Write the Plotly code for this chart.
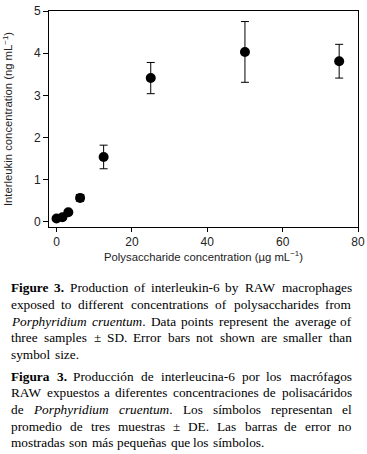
import plotly.graph_objects as go

# ---- data ----
concentration = [0, 1.5625, 3.125, 6.25, 12.5, 25, 50, 75]
il6 = [0.08, 0.11, 0.23, 0.57, 1.54, 3.41, 4.03, 3.81]
il6_sd = [0.02, 0.03, 0.04, 0.08, 0.28, 0.37, 0.72, 0.40]
x_ticks = [0, 20, 40, 60, 80]
y_ticks = [0, 1, 2, 3, 4, 5]

W, H = 367, 454
ML, MR, MT, MB = 49, 9, 11, 227
PW, PH = W - ML - MR, H - MT - MB

AX_FONT = "Liberation Sans, Arial, sans-serif"
SERIF = "Liberation Serif, Times New Roman, serif"
CAP_SIZE = 13.3
FUDGE = 1.02

fig = go.Figure()
fig.add_trace(go.Scatter(
    x=concentration, y=il6, mode="markers",
    marker=dict(size=10, color="black"),
    error_y=dict(type="data", array=il6_sd, visible=True, color="black",
                 thickness=1, width=4),
    showlegend=False,
))

fig.update_layout(
    width=W, height=H, autosize=False,
    margin=dict(l=ML, r=MR, t=MT, b=MB, pad=0),
    paper_bgcolor="white", plot_bgcolor="white",
    font=dict(family=AX_FONT, color="black", size=12),
    xaxis=dict(range=[-2, 80], tickvals=x_ticks, ticks="outside", ticklen=4,
               tickcolor="black", showline=True, linecolor="black", linewidth=1,
               mirror=True, showgrid=False, zeroline=False, automargin=False,
               ticklabeloverflow="allow",
               tickfont=dict(size=12, color="#222"),
               title=dict(text="Polysaccharide concentration (µg mL<sup>−1</sup>)",
                          font=dict(size=11.3, color="#222"), standoff=4)),
    yaxis=dict(range=[-0.12, 5], tickvals=y_ticks, ticks="outside", ticklen=5,
               tickcolor="black", showline=True, linecolor="black", linewidth=1,
               mirror=True, showgrid=False, zeroline=False, automargin=False,
               ticklabeloverflow="allow",
               tickfont=dict(size=12, color="#222"),
               title=dict(text="Interleukin concentration (ng mL<sup>−1</sup>)",
                          font=dict(size=11.3, color="#222"), standoff=18)),
)

# ---- caption (justified, Times metrics) ----
REG = {' ': 250, '(': 333, ')': 333, ',': 250, '-': 333, '.': 250, '±': 564,
       'A': 722, 'B': 667, 'C': 667, 'D': 722, 'E': 611, 'F': 556, 'G': 722, 'H': 722,
       'I': 333, 'J': 389, 'K': 722, 'L': 611, 'M': 889, 'N': 722, 'O': 722, 'P': 556,
       'Q': 722, 'R': 667, 'S': 556, 'T': 611, 'U': 722, 'V': 722, 'W': 944, 'X': 722,
       'Y': 722, 'Z': 611,
       'a': 444, 'b': 500, 'c': 444, 'd': 500, 'e': 444, 'f': 333, 'g': 500, 'h': 500,
       'i': 278, 'j': 278, 'k': 500, 'l': 278, 'm': 778, 'n': 500, 'o': 500, 'p': 500,
       'q': 500, 'r': 333, 's': 389, 't': 278, 'u': 500, 'v': 500, 'w': 722, 'x': 500,
       'y': 500, 'z': 444, 'á': 444, 'ó': 500, 'í': 278, 'ñ': 500, 'é': 444}
BOLD = {'F': 611, 'i': 278, 'g': 500, 'u': 556, 'r': 444, 'e': 444, 'a': 500, '3': 500, '.': 250}
ITAL = {'P': 611, 'o': 500, 'r': 389, 'p': 500, 'h': 500, 'y': 444, 'i': 278, 'd': 500,
        'u': 500, 'm': 722, 'c': 444, 'e': 444, 'n': 500, 't': 278}


def run_width(text, style):
    tbl = {'r': REG, 'b': BOLD, 'i': ITAL}[style]
    return sum(tbl.get(ch, REG.get(ch, 500)) for ch in text) * CAP_SIZE * FUDGE / 1000.0


def parse(line):
    words = []
    for w in line.split(' '):
        runs = []
        buf, style = '', 'r'
        for ch in w:
            if ch in '*_':
                if buf:
                    runs.append((buf, style))
                buf = ''
                new = 'b' if ch == '*' else 'i'
                style = 'r' if style == new else new
            else:
                buf += ch
        if buf:
            runs.append((buf, style))
        words.append(runs)
    return words


def html(runs):
    out = ''
    for t, s in runs:
        out += {'r': t, 'b': '<b>' + t + '</b>', 'i': '<i>' + t + '</i>'}[s]
    return out


caption = [
    ("*Figure* *3.* Production of interleukin-6 by RAW macrophages", True, 293.3),
    ("exposed to different concentrations of polysaccharides from", True, 310.0),
    ("_Porphyridium_ _cruentum_. Data points represent the average of", True, 326.7),
    ("three samples ± SD. Error bars not shown are smaller than", True, 343.3),
    ("symbol size.", False, 360.0),
    ("*Figura* *3.* Producción de interleucina-6 por los macrófagos", True, 381.7),
    ("RAW expuestos a diferentes concentraciones de polisacáridos", True, 398.3),
    ("de _Porphyridium_ _cruentum_. Los símbolos representan el", True, 415.0),
    ("promedio de tres muestras ± DE. Las barras de error no", True, 431.7),
    ("mostradas son más pequeñas que los símbolos.", False, 448.3),
]
X0, X1 = 11, 352


def px2paper(px, py):
    return (px - ML) / PW, (H - MB - py) / PH


for line, justify, base in caption:
    words = parse(line)
    widths = [sum(run_width(t, s) for t, s in w) for w in words]
    n = len(words)
    if justify and n > 1:
        gap = (X1 - X0 - sum(widths)) / (n - 1)
    else:
        gap = 250 * CAP_SIZE / 1000.0
    x = X0
    for i, (w, wd) in enumerate(zip(words, widths)):
        if i == 0:
            ax, anchor = x, "left"
        elif justify and i == n - 1:
            ax, anchor = X1, "right"
        else:
            ax, anchor = x + wd / 2, "center"
        xp, yp = px2paper(ax, base - 5.5)
        fig.add_annotation(text=html(w), x=xp, y=yp, xref="paper", yref="paper",
                           xanchor=anchor, yanchor="middle", showarrow=False,
                           borderpad=0, borderwidth=0,
                           font=dict(family=SERIF, size=CAP_SIZE, color="black"))
        x += wd + gap

fig.write_html("out.html", config={"displayModeBar": False},
               post_script="document.body.style.margin='0px';document.body.style.overflow='hidden';")
